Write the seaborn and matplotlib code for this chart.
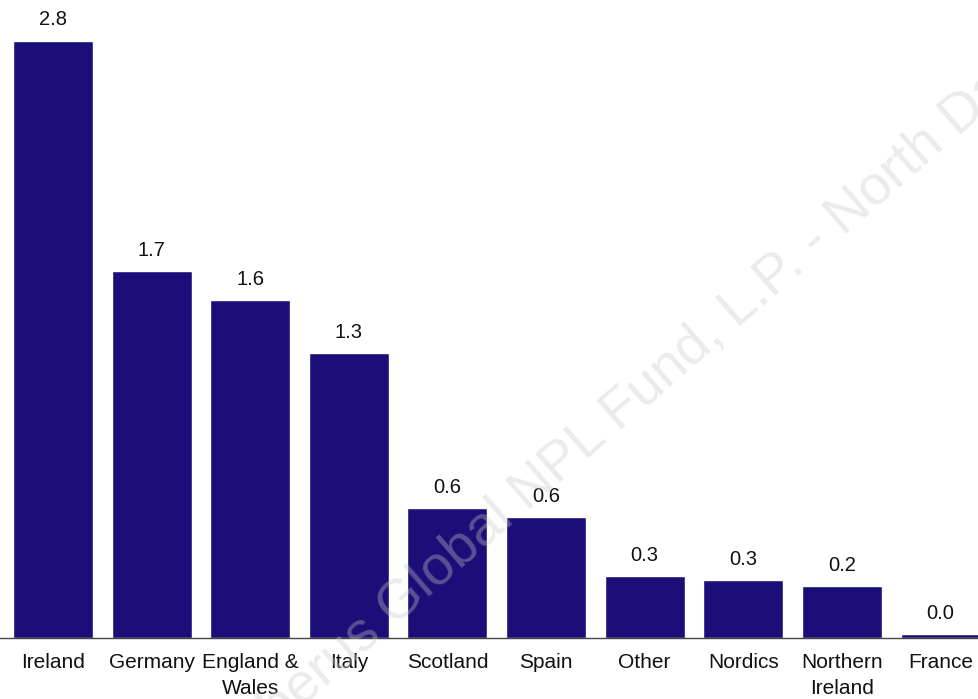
import numpy as np
import pandas as pd
import matplotlib
matplotlib.use("Agg")
import matplotlib.pyplot as plt
import seaborn as sns

# Data
regions = ["Ireland", "Germany", "England &\nWales", "Italy", "Scotland", "Spain",
           "Other", "Nordics", "Northern\nIreland", "France"]
values = [2.80, 1.72, 1.585, 1.337, 0.61, 0.568, 0.291, 0.272, 0.244, 0.019]

bar_color = "#1b0e78"
watermark = "Cerberus Global NPL Fund, L.P. - North Dakota"

sns.set_style("white")
plt.rcParams["font.family"] = ["Liberation Sans", "DejaVu Sans"]

df = pd.DataFrame({"region": regions, "value": values})

fig = plt.figure(figsize=(9.79, 6.99), dpi=100)
ax = fig.add_axes([0, 61 / 699, 1, 638 / 699])

sns.barplot(data=df, x="region", y="value", order=regions, color=bar_color,
            saturation=1, width=0.81, ax=ax)

for c in ax.containers:
    ax.bar_label(c, fmt="%.1f", padding=8, fontsize=14.5, color="#111111")

ax.set_xlim(-0.537, 9.39)
ax.set_ylim(0, 2.99)
ax.set_xlabel("")
ax.set_ylabel("")
ax.set_yticks([])
ax.tick_params(axis="x", length=0, pad=11, labelsize=15, labelcolor="#111111")
for lab in ax.get_xticklabels():
    lab.set_linespacing(1.45)
for s in ["top", "left", "right"]:
    ax.spines[s].set_visible(False)
ax.spines["bottom"].set_color("#444444")
ax.spines["bottom"].set_linewidth(1.0)

# faint diagonal watermark
fig.text(0.215, -0.125, watermark, rotation=41, rotation_mode="anchor",
         ha="left", va="baseline", fontsize=40, color="#c8c8c8", alpha=0.36,
         zorder=10)

fig.savefig("out.png", dpi=100)
